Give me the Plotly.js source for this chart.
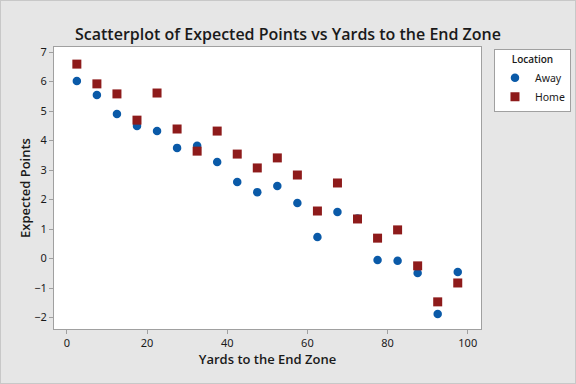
<!DOCTYPE html>
<html>
<head>
<meta charset="utf-8">
<script src="https://cdn.plot.ly/plotly-3.0.1.min.js"></script>
<style>
html,body{margin:0;padding:0;background:#e6e6e6;}
#chart{width:576px;height:384px;}
#frame{position:absolute;left:0;top:0;width:574px;height:382px;border:1px solid #c8c8c8;pointer-events:none;}
</style>
</head>
<body>
<div id="chart"></div>
<div id="frame"></div>
<script>
const yards = [2.5, 7.5, 12.5, 17.5, 22.5, 27.5, 32.5, 37.5, 42.5, 47.5,
               52.5, 57.5, 62.5, 67.5, 72.5, 77.5, 82.5, 87.5, 92.5, 97.5];
const awayPoints = [6.02, 5.54, 4.90, 4.49, 4.32, 3.75, 3.82, 3.27, 2.59, 2.25,
                    2.46, 1.88, 0.73, 1.58, 1.36, -0.05, -0.08, -0.49, -1.88, -0.46];
const homePoints = [6.59, 5.92, 5.58, 4.69, 5.61, 4.39, 3.64, 4.32, 3.54, 3.07,
                    3.41, 2.83, 1.61, 2.56, 1.34, 0.69, 0.97, -0.25, -1.47, -0.83];
const xTicks = [0, 20, 40, 60, 80, 100];
const yTicks = [-2, -1, 0, 1, 2, 3, 4, 5, 6, 7];

const FONT = '"Noto Sans", "Open Sans", sans-serif';
const TFONT = '"Open Sans", "Noto Sans", sans-serif';

const traces = [
  {
    x: yards, y: awayPoints, name: 'Away', type: 'scatter', mode: 'markers',
    marker: {symbol: 'circle', size: 8.5, color: '#0a5aa8', line: {width: 0}}
  },
  {
    x: yards, y: homePoints, name: 'Home', type: 'scatter', mode: 'markers',
    marker: {symbol: 'square', size: 9, color: '#8e1b1b', line: {width: 0}}
  }
];

const axisCommon = {
  showgrid: false, zeroline: false, showline: true, mirror: true,
  linecolor: '#a0a0a0', linewidth: 1,
  ticks: 'outside', ticklen: 4, tickcolor: '#a0a0a0', tickwidth: 1,
  tickfont: {family: FONT, size: 11, color: '#1a1a1a'}
};

const layout = {
  width: 576, height: 384,
  paper_bgcolor: '#e6e6e6', plot_bgcolor: '#ffffff',
  margin: {l: 54, r: 95, t: 47, b: 55},
  title: {
    text: 'Scatterplot of Expected Points vs Yards to the End Zone',
    font: {family: TFONT, size: 16, color: '#1a1a1a', weight: 600},
    x: 0.5, xref: 'container', xanchor: 'center', y: 0.925, yref: 'container'
  },
  xaxis: Object.assign({}, axisCommon, {
    range: [-3.2, 103.3], tickvals: xTicks,
    title: {text: 'Yards to the End Zone', font: {family: TFONT, size: 13, color: '#1a1a1a', weight: 600}, standoff: 4}
  }),
  yaxis: Object.assign({}, axisCommon, {
    range: [-2.39, 7.17], tickvals: yTicks,
    title: {text: 'Expected Points', font: {family: TFONT, size: 13, color: '#1a1a1a', weight: 600}, standoff: 0}
  }),
  showlegend: true,
  legend: {
    xref: 'container', yref: 'container',
    x: 0.8576, xanchor: 'left', y: 0.872, yanchor: 'top',
    bgcolor: '#ffffff', bordercolor: '#a0a0a0', borderwidth: 1,
    font: {family: FONT, size: 10.5, color: '#1a1a1a'},
    title: {text: 'Location', side: 'top center', font: {family: TFONT, size: 10, color: '#1a1a1a', weight: 600}},
    itemwidth: 30, tracegroupgap: 0
  }
};

Plotly.newPlot('chart', traces, layout, {displayModeBar: false, staticPlot: true});
</script>
</body>
</html>
